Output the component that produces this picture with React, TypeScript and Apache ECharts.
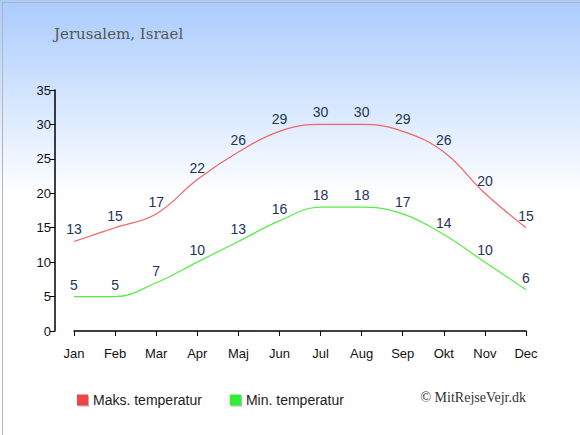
import React, { useEffect, useRef } from "react";
import * as echarts from "echarts";

const months = ["Jan", "Feb", "Mar", "Apr", "Maj", "Jun", "Jul", "Aug", "Sep", "Okt", "Nov", "Dec"];
const maxTemp = [13, 15, 17, 22, 26, 29, 30, 30, 29, 26, 20, 15];
const minTemp = [5, 5, 7, 10, 13, 16, 18, 18, 17, 14, 10, 6];
const yTicks = [0, 5, 10, 15, 20, 25, 30, 35];

const SANS = "'Liberation Sans', Arial, sans-serif";

export default function App() {
  const ref = useRef<HTMLDivElement>(null);
  useEffect(() => {
    document.body.style.margin = "0";
    const chart = echarts.init(ref.current!, null, { renderer: "svg" });
    const labelStyle = { show: true, position: "top", distance: 5, color: "#223355", fontSize: 14, fontFamily: SANS };
    chart.setOption({
      animation: false,
      backgroundColor: {
        type: "linear", x: 0, y: 0, x2: 0, y2: 1,
        colorStops: [
          { offset: 0, color: "#a9cbfd" },
          { offset: 0.45, color: "#ffffff" },
          { offset: 1, color: "#ffffff" },
        ],
      },
      title: {
        text: "Jerusalem, Israel",
        left: 49,
        top: 21,
        textStyle: { fontFamily: "'DejaVu Serif', serif", fontWeight: "normal", fontSize: 15, color: "#555555" },
      },
      grid: { left: 74, right: 54, top: 90, bottom: 104 },
      xAxis: {
        type: "category",
        data: months,
        boundaryGap: false,
        offset: 10,
        axisLine: { lineStyle: { color: "#000", width: 1.5 } },
        axisTick: { alignWithLabel: true, length: 5, lineStyle: { color: "#000" } },
        axisLabel: { color: "#111", fontSize: 13, fontFamily: SANS, margin: 6 },
        splitLine: { show: false },
      },
      yAxis: {
        type: "value",
        min: yTicks[0],
        max: yTicks[yTicks.length - 1],
        interval: 5,
        offset: 19,
        axisLine: { show: true, lineStyle: { color: "#000", width: 1.5 } },
        axisTick: { show: true, length: 5, lineStyle: { color: "#000" } },
        axisLabel: { color: "#111", fontSize: 13, fontFamily: SANS, margin: 4 },
        splitLine: { show: false },
      },
      legend: {
        left: 72,
        top: 388,
        itemWidth: 11,
        itemHeight: 11,
        itemGap: 28,
        icon: "rect",
        textStyle: { fontSize: 14, color: "#222", fontFamily: SANS },
        data: [
          { name: "Maks. temperatur", itemStyle: { color: "#ee4444", opacity: 1, shadowColor: "rgba(0,0,0,0.3)", shadowOffsetX: 1, shadowOffsetY: 1 } },
          { name: "Min. temperatur", itemStyle: { color: "#33ee33", opacity: 1, shadowColor: "rgba(0,0,0,0.3)", shadowOffsetX: 1, shadowOffsetY: 1 } },
        ],
      },
      graphic: [
        {
          type: "text",
          right: 54,
          top: 390,
          style: { text: "© MitRejseVejr.dk", font: "14px 'Liberation Serif', 'Times New Roman', serif", fill: "#333" },
        },
        {
          type: "rect",
          left: 0, top: 0,
          shape: { x: 0.5, y: 0.5, width: 579, height: 434 },
          style: { fill: "none", stroke: "#b5b5b5", lineWidth: 1 },
          silent: true,
        },
      ],
      series: [
        {
          name: "Maks. temperatur",
          type: "line",
          data: maxTemp,
          smooth: 0.4,
          symbol: "circle",
          symbolSize: 0,
          showSymbol: true,
          lineStyle: { color: "#ee6666", width: 1.2 },
          itemStyle: { color: "#ee4444" },
          label: labelStyle,
        },
        {
          name: "Min. temperatur",
          type: "line",
          data: minTemp,
          smooth: 0.4,
          symbol: "circle",
          symbolSize: 0,
          showSymbol: true,
          lineStyle: { color: "#55ee44", width: 1.2 },
          itemStyle: { color: "#33ee33" },
          label: labelStyle,
        },
      ],
    });
    return () => chart.dispose();
  }, []);
  return <div ref={ref} style={{ width: 580, height: 435 }} />;
}
